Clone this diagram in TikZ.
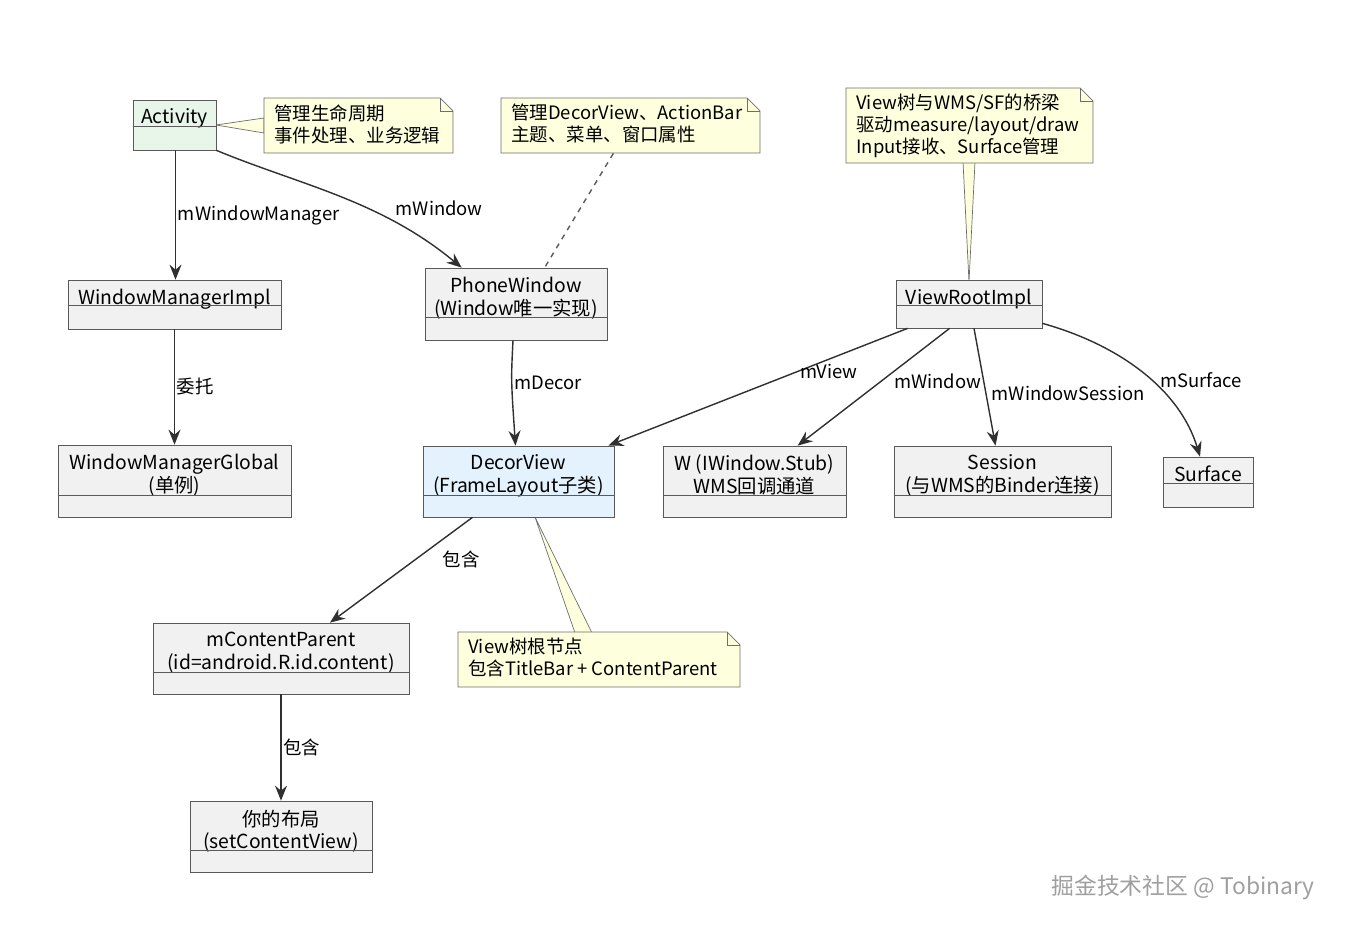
\documentclass[tikz,border=0pt]{standalone}
\usepackage{fontspec}
\setmainfont{Noto Sans CJK SC}
\usetikzlibrary{arrows.meta, positioning, calc}
\definecolor{clsfill}{HTML}{F1F1F1}
\definecolor{actfill}{HTML}{E8F5E9}
\definecolor{decorfill}{HTML}{E3F2FD}
\definecolor{notefill}{HTML}{FEFFDD}
\definecolor{edge}{HTML}{303030}
\tikzset{
	cls/.style={draw=edge!80, rectangle, inner sep=0pt},
	clstext/.style={anchor=north, align=center, inner sep=0pt, font=\fontsize{11}{13}\selectfont},
	lbl/.style={font=\fontsize{10.5}{12}\selectfont, inner sep=1pt},
	notetext/.style={align=left, anchor=north west, inner sep=0pt, font=\fontsize{10.5}{12.5}\selectfont},
	line/.style={draw=edge, thick, -{Stealth[length=3mm, width=2.4mm, inset=1mm]}}
}
% class box: name, cx, cy, width, height, sep, text, fill
\newcommand\umlcls[8]{%
	\node[cls, fill=#8, minimum width=#4, minimum height=#5] (#1) at (#2,#3) {};
	\node[clstext] at ([yshift=-5pt]#1.north) {#7};
	\draw[edge!80] ([yshift=-#6]#1.north west) -- ([yshift=-#6]#1.north east);
}
% note: name, x1, y1, x2, y2, text
\newcommand\umlnote[6]{%
	\draw[edge!70, fill=notefill] (#2,#3) -- (#4-13,#3) -- (#4,#3+13) -- (#4,#5) -- (#2,#5) -- cycle;
	\draw[edge!70] (#4-13,#3) -- (#4-13,#3+13) -- (#4,#3+13);
	\node[inner sep=0pt, minimum width={(#4-#2)*0.02cm}, minimum height={(#5-#3)*0.02cm}] (#1) at ({(#2+#4)/2},{(#3+#5)/2}) {};
	\node[notetext] (#1t) at (#2+10,#3+6) {#6};
}
\begin{document}
\begin{tikzpicture}[x=0.02cm, y=-0.02cm]
	\useasboundingbox (0,0) rectangle (1356,928);
	
	% --- notes and their connectors ---
	\fill[notefill, draw=edge!70] (216,125) -- (264,118) -- (264,133) -- cycle;
	\umlnote{nact}{264}{98}{453}{153}{管理生命周期\\事件处理、业务逻辑}
	\umlnote{npw}{501}{98}{760}{153}{管理DecorView、ActionBar\\主题、菜单、窗口属性}
	\fill[notefill, draw=edge!70] (969,282) -- (963,162) -- (975,162) -- cycle;
	\umlnote{nvri}{846}{88}{1093}{163}{View树与WMS/SF的桥梁\\驱动measure/layout/draw\\Input接收、Surface管理}
	\fill[notefill, draw=edge!70] (535,517) -- (575,633) -- (592,633) -- cycle;
	\umlnote{ndv}{458}{632}{740}{687}{View树根节点\\包含TitleBar + ContentParent}
	
	% --- classes ---
	\umlcls{act}{174.5}{125}{1.66cm}{1.0cm}{0.54cm}{Activity}{actfill}
	\umlcls{wmi}{174.5}{304.5}{4.26cm}{0.98cm}{0.52cm}{WindowManagerImpl}{clsfill}
	\umlcls{wmg}{174.5}{481}{4.66cm}{1.44cm}{1.02cm}{WindowManagerGlobal\\(单例)}{clsfill}
	\umlcls{pw}{516}{304}{3.64cm}{1.44cm}{1.0cm}{PhoneWindow\\(Window唯一实现)}{clsfill}
	\umlcls{dv}{518.5}{481.5}{3.82cm}{1.42cm}{1.0cm}{DecorView\\(FrameLayout子类)}{decorfill}
	\umlcls{w}{754.5}{481.5}{3.66cm}{1.42cm}{1.0cm}{W (IWindow.Stub)\\WMS回调通道}{clsfill}
	\umlcls{vri}{969}{304}{2.92cm}{0.96cm}{0.52cm}{ViewRootImpl}{clsfill}
	\umlcls{ses}{1002.5}{481.5}{4.34cm}{1.42cm}{1.0cm}{Session\\(与WMS的Binder连接)}{clsfill}
	\umlcls{surf}{1208}{482}{1.8cm}{1.0cm}{0.54cm}{Surface}{clsfill}
	\umlcls{mcp}{281}{658.5}{5.12cm}{1.42cm}{1.0cm}{mContentParent\\(id=android.R.id.content)}{clsfill}
	\umlcls{lay}{281}{836.5}{3.64cm}{1.42cm}{1.0cm}{你的布局\\(setContentView)}{clsfill}
	
	\draw[edge!80, dashed, thick] ([xshift=-2.94cm]npw.south east) -- ([xshift=2.4cm]pw.north west);
	
	% --- references ---
	\draw[line] ([xshift=0.02cm]act.south) -- node[lbl, right] {mWindowManager} ([xshift=0.02cm]wmi.north);
	\draw[line] (act.south east) .. controls (300,185) and (380,200) .. node[lbl, pos=0.72, above right=2pt and 0pt] {mWindow} ([xshift=0.74cm]pw.north west);
	\draw[line] (wmi.south) -- node[lbl, right] {委托} (wmg.north);
	\draw[line] ([xshift=-0.06cm]pw.south) .. controls (511,380) .. node[lbl, right] {mDecor} ([xshift=-0.06cm]dv.north);
	\draw[line] ([xshift=0.24cm]vri.south west) -- node[lbl, pos=0.45, above right=0pt and 14pt] {mView} ([xshift=-0.12cm]dv.north east);
	\draw[line] ([xshift=1.08cm]vri.south west) -- node[lbl, pos=0.45, right=6pt] {mWindow} ([xshift=2.7cm]w.north west);
	\draw[line] ([xshift=0.1cm]vri.south) -- node[lbl, pos=0.55, right=2pt] {mWindowSession} ([xshift=-0.14cm]ses.north);
	\draw[line] ([yshift=0.1cm]vri.south east) .. controls (1120,345) and (1180,390) .. node[lbl, pos=0.55, right=4pt] {mSurface} ([xshift=-0.16cm]surf.north);
	\draw[line] ([xshift=-0.92cm]dv.south) -- node[lbl, pos=0.4, right=14pt] {包含} ([xshift=0.98cm]mcp.north);
	\draw[line] (mcp.south) -- node[lbl, right] {包含} (lay.north);
	
	\node[font=\fontsize{13}{15}\selectfont, text=gray!75] (wm) at (1183,887) {掘金技术社区 @ Tobinary};
\end{tikzpicture}
\end{document}
